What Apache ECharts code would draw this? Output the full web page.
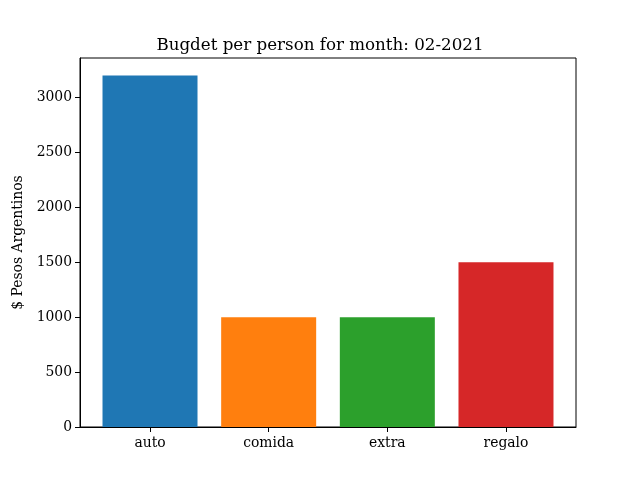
<!DOCTYPE html>
<html>
<head>
<meta charset="utf-8">
<script src="https://cdn.jsdelivr.net/npm/echarts@6/dist/echarts.min.js"></script>
<style>html,body{margin:0;padding:0;background:#fff}#c{width:640px;height:480px}</style>
</head>
<body>
<div id="c"></div>
<script>
const categories = ['auto', 'comida', 'extra', 'regalo'];
const values = [3200, 1000, 1000, 1500];
const colors = ['#1f77b4', '#ff7f0e', '#2ca02c', '#d62728'];
const yTicks = [0, 500, 1000, 1500, 2000, 2500, 3000];

const chart = echarts.init(document.getElementById('c'));
const font = 'DejaVu Serif';
chart.setOption({
  animation: false,
  backgroundColor: '#fff',
  title: {
    text: 'Bugdet per person for month: 02-2021',
    left: 'center', top: 32,
    textStyle: { fontFamily: font, fontSize: 16.7, fontWeight: 'normal', color: '#000' }
  },
  grid: { left: 80, right: 64, top: 58, bottom: 53, show: true, borderColor: '#000', borderWidth: 1, backgroundColor: 'transparent' },
  xAxis: {
    type: 'value', min: -0.59, max: 3.59,
    axisLine: { show: true, onZero: false, lineStyle: { color: '#000' } },
    axisTick: { show: true, inside: false, length: 5, lineStyle: { color: '#000' }, customValues: [0, 1, 2, 3] },
    axisLabel: { customValues: [0, 1, 2, 3], formatter: v => categories[Math.round(v)], fontFamily: font, fontSize: 13.9, color: '#000', margin: 9 },
    splitLine: { show: false }
  },
  yAxis: {
    type: 'value', min: 0, max: 3360,
    name: '$ Pesos Argentinos', nameLocation: 'middle', nameGap: 52,
    nameTextStyle: { fontFamily: font, fontSize: 13.9, color: '#000' },
    axisLine: { show: true, onZero: false, lineStyle: { color: '#000' } },
    axisTick: { show: true, inside: false, length: 5, lineStyle: { color: '#000' }, customValues: yTicks },
    axisLabel: { customValues: yTicks, formatter: v => String(v), fontFamily: font, fontSize: 13.9, color: '#000', margin: 8 },
    splitLine: { show: false }
  },
  series: [{
    type: 'bar',
    barWidth: 95,
    data: values.map((v, i) => ({ value: [i, v], itemStyle: { color: colors[i] } }))
  }]
});
</script>
</body>
</html>
